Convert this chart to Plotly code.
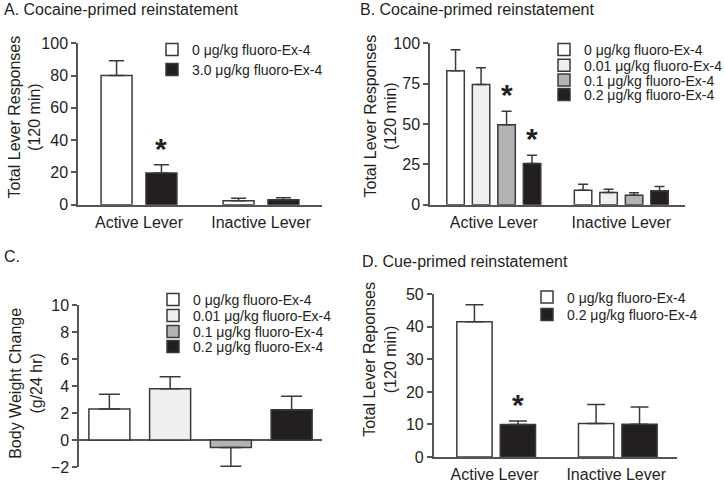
import plotly.graph_objects as go

# ---------------- data ----------------
levers = ["Active Lever", "Inactive Lever"]
fills = ["#ffffff", "#efefef", "#b3b3b3", "#231f20"]

a_names = ["0 μg/kg fluoro-Ex-4", "3.0 μg/kg fluoro-Ex-4"]
a_means = [[80.0, 2.5], [19.6, 3.1]]
a_sems = [[9.2, 1.5], [5.2, 1.2]]
a_sig = [[False, False], [True, False]]

b_names = ["0 μg/kg fluoro-Ex-4", "0.01 μg/kg fluoro-Ex-4",
           "0.1 μg/kg fluoro-Ex-4", "0.2 μg/kg fluoro-Ex-4"]
b_means = [[83.0, 9.0], [74.4, 7.6], [49.6, 5.8], [25.6, 8.7]]
b_sems = [[13.0, 3.6], [10.5, 1.9], [8.3, 1.6], [5.0, 2.5]]
b_sig = [[False, False], [False, False], [True, False], [True, False]]

c_doses = ["0", "0.01", "0.1", "0.2"]
c_names = ["0 μg/kg fluoro-Ex-4", "0.01 μg/kg fluoro-Ex-4",
           "0.1 μg/kg fluoro-Ex-4", "0.2 μg/kg fluoro-Ex-4"]
c_means = [2.3, 3.8, -0.55, 2.25]
c_sems = [1.1, 0.9, 1.4, 1.0]

d_names = ["0 μg/kg fluoro-Ex-4", "0.2 μg/kg fluoro-Ex-4"]
d_means = [[41.6, 10.3], [10.0, 10.1]]
d_sems = [[5.2, 5.8], [1.1, 5.3]]
d_sig = [[False, False], [True, False]]

a_ticks = [0, 20, 40, 60, 80, 100]
b_ticks = [0, 25, 50, 75, 100]
c_ticks = [-2, 0, 2, 4, 6, 8, 10]
d_ticks = [0, 10, 20, 30, 40, 50]

# ---------------- style ----------------
FONT = "Liberation Sans, Arial, sans-serif"
TXT = "#231f20"
EDGE = "#3a3a3a"
AXC = "#555555"
W, H = 725, 483

fig = go.Figure()
legend_layout = {}
leg_style = dict(font=dict(family=FONT, size=14, color=TXT), bgcolor="rgba(0,0,0,0)",
                 xanchor="left", yanchor="middle", itemclick=False, itemdoubleclick=False)


def new_legend(left_px, row_px):
    k = len(legend_layout) + 1
    key = "legend" if k == 1 else f"legend{k}"
    legend_layout[key] = dict(leg_style, x=left_px / W, y=1 - row_px / H)
    return key


def err(mean, sem):
    plus = [s if m >= 0 else 0 for m, s in zip(mean, sem)]
    minus = [s if m < 0 else 0 for m, s in zip(mean, sem)]
    return plus, minus


def add_group(means, sems, names, colors, offsets, width, xa, ya, leg_left, leg_rows,
              capw, sig=None):
    for i, (m, s, n, c) in enumerate(zip(means, sems, names, colors)):
        plus, minus = err(m, s)
        fig.add_trace(go.Bar(
            x=levers, y=m, name=n, xaxis=xa, yaxis=ya,
            legend=new_legend(leg_left, leg_rows[i]),
            marker=dict(color=c, line=dict(color=EDGE, width=1.5)),
            offset=offsets[i], width=width,
            error_y=dict(type="data", array=plus, arrayminus=minus, symmetric=False,
                         color=EDGE, thickness=1.5, width=capw),
            showlegend=True,
        ))
        if sig:
            for j, flag in enumerate(sig[i]):
                if flag:
                    fig.add_annotation(
                        x=j + offsets[i] + width / 2, y=m[j] + s[j],
                        xref=xa, yref=ya, text="<b>*</b>", showarrow=False,
                        yanchor="middle", yshift=16.5,
                        font=dict(family=FONT, size=30, color=TXT))


fA = [fills[0], fills[3]]
add_group(a_means, a_sems, a_names, fA, [-0.311, 0.057], 0.254, "x", "y",
          152, [50, 70], 7.5, a_sig)
add_group(b_means, b_sems, b_names, fills, [-0.368, -0.168, 0.032, 0.232], 0.137,
          "x2", "y2", 544, [50, 65.7, 80.5, 95], 5, b_sig)

# panel C: one bar per dose
c_rows = [300, 316, 332, 347]
for i, (dname, m, s, n) in enumerate(zip(c_doses, c_means, c_sems, c_names)):
    plus, minus = err([m], [s])
    fig.add_trace(go.Bar(
        x=[dname], y=[m], name=n, xaxis="x3", yaxis="y3",
        legend=new_legend(153, c_rows[i]),
        marker=dict(color=fills[i], line=dict(color=EDGE, width=1.5)),
        offset=-0.3375, width=0.675,
        error_y=dict(type="data", array=plus, arrayminus=minus, symmetric=False,
                     color=EDGE, thickness=1.5, width=10.5),
    ))

add_group(d_means, d_sems, d_names, fA, [-0.31, 0.047], 0.29, "x4", "y4",
          527, [297.5, 315], 9, d_sig)


def px_x(a, b):
    return [a / W, b / W]


def px_y(bottom, top):
    return [1 - bottom / H, 1 - top / H]


tickfont = dict(family=FONT, size=16, color=TXT)


def xaxis(dom, anchor, show=True, cats=levers):
    return dict(domain=dom, anchor=anchor, type="category", categoryorder="array",
                categoryarray=cats, range=[-0.5, len(cats) - 0.5],
                showline=show, linecolor=AXC, linewidth=1.5, ticks="",
                showticklabels=show, tickfont=tickfont, showgrid=False,
                zeroline=False, automargin=False, ticklabelstandoff=2, fixedrange=True)


def yaxis(dom, anchor, rng, ticks, zeroline=False):
    return dict(domain=dom, anchor=anchor, range=rng, tickvals=ticks,
                showline=True, linecolor=AXC, linewidth=1.5, ticks="outside",
                ticklen=5, tickwidth=1.5, tickcolor=AXC, tickfont=tickfont,
                showgrid=False, zeroline=zeroline, zerolinecolor=AXC, zerolinewidth=1.5,
                automargin=False, fixedrange=True)


fig.update_layout(
    width=W, height=H, margin=dict(l=0, r=0, t=0, b=0, autoexpand=False),
    paper_bgcolor="white", plot_bgcolor="white", barmode="overlay",
    font=dict(family=FONT, color=TXT),
    xaxis=xaxis(px_x(78, 322), "y"),
    yaxis=yaxis(px_y(204.7, 43.3), "x", [0, 100], a_ticks),
    xaxis2=xaxis(px_x(430, 685), "y2"),
    yaxis2=yaxis(px_y(204.7, 43.3), "x2", [0, 100], b_ticks),
    xaxis3=xaxis(px_x(79, 322), "y3", show=False, cats=c_doses),
    yaxis3=yaxis(px_y(467, 305.3), "x3", [-2, 10], c_ticks, zeroline=True),
    xaxis4=xaxis(px_x(433.7, 677), "y4"),
    yaxis4=yaxis(px_y(457, 294.3), "x4", [0, 50], d_ticks),
)
fig.update_layout(**legend_layout)

panel_titles = [
    ("A. Cocaine-primed reinstatement", 2, 9),
    ("B. Cocaine-primed reinstatement", 358, 9),
    ("C.", 2, 256),
    ("D. Cue-primed reinstatement", 360, 261),
]
for text, px, py in panel_titles:
    fig.add_annotation(text=text, x=px / W, y=1 - py / H, xref="paper", yref="paper",
                       xanchor="left", yanchor="middle", showarrow=False,
                       font=dict(family=FONT, size=16, color=TXT))

axis_titles = [
    ("Total Lever Responses<br>(120 min)", 24.5, 117),
    ("Total Lever Responses<br>(120 min)", 380.5, 116),
    ("Body Weight Change<br>(g/24 hr)", 25.8, 383),
    ("Total Lever Reponses<br>(120 min)", 379.8, 359),
]
for text, px, py in axis_titles:
    fig.add_annotation(text=text, x=px / W, y=1 - py / H, xref="paper", yref="paper",
                       xanchor="center", yanchor="middle", textangle=-90, showarrow=False,
                       font=dict(family=FONT, size=16, color=TXT))

fig.write_html("out.html", config={"displayModeBar": False},
               post_script="document.body.style.margin='0px';document.body.style.overflow='hidden';")
